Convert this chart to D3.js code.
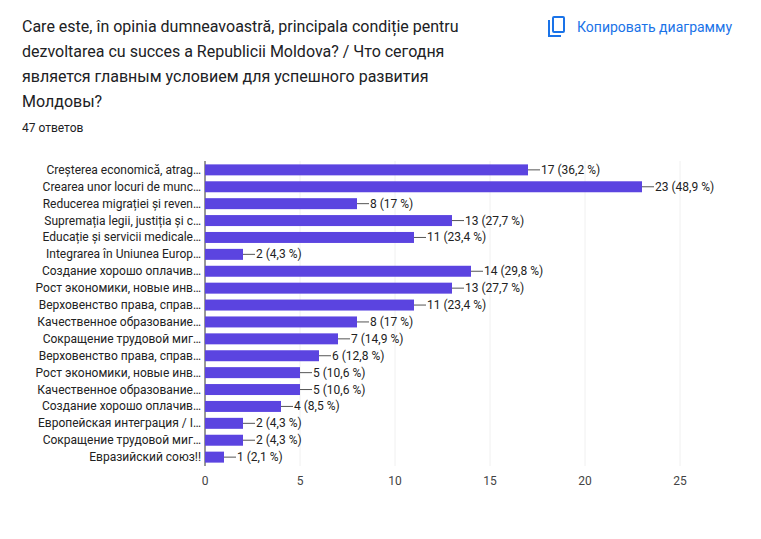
<!DOCTYPE html>
<html><head><meta charset="utf-8">
<script src="https://cdn.jsdelivr.net/npm/d3@7"></script>
<style>body{margin:0;background:#fff;font-family:Roboto,Arial,sans-serif}</style>
</head><body>
<svg class="canvas" width="761" height="539"></svg>
<script>
const categories = [
  "Creșterea economică, atrag…", "Crearea unor locuri de munc…", "Reducerea migrației și reven…",
  "Supremația legii, justiția și c…", "Educație și servicii medicale…", "Integrarea în Uniunea Europ…",
  "Создание хорошо оплачив…", "Рост экономики, новые инв…", "Верховенство права, справ…",
  "Качественное образование…", "Сокращение трудовой миг…", "Верховенство права, справ…",
  "Рост экономики, новые инв…", "Качественное образование…", "Создание хорошо оплачив…",
  "Европейская интеграция / I…", "Сокращение трудовой миг…", "Евразийский союз!!"
];
const counts = [17, 23, 8, 13, 11, 2, 14, 13, 11, 8, 7, 6, 5, 5, 4, 2, 2, 1];
const percents = ["36,2", "48,9", "17", "27,7", "23,4", "4,3", "29,8", "27,7", "23,4", "17", "14,9", "12,8", "10,6", "10,6", "8,5", "4,3", "4,3", "2,1"];
const xTicks = [0, 5, 10, 15, 20, 25];
const titleLines = [
  "Care este, în opinia dumneavoastră, principala condiție pentru",
  "dezvoltarea cu succes a Republicii Moldova? / Что сегодня",
  "является главным условием для успешного развития",
  "Молдовы?"
];

const svg = d3.select(".canvas");
svg.selectAll(".title").data(titleLines).enter().append("text")
  .attr("x", 22).attr("y", (d, i) => 32 + i * 25)
  .attr("font-size", 16).attr("fill", "#202124").text(d => d);
svg.append("text").attr("x", 22).attr("y", 132).attr("font-size", 12).attr("fill", "#202124").text("47 ответов");

// copy button
const cp = svg.append("g").attr("fill", "none").attr("stroke", "#1a73e8").attr("stroke-width", 2);
cp.append("rect").attr("x", 553).attr("y", 17).attr("width", 11).attr("height", 15).attr("rx", 1);
cp.append("path").attr("d", "M549,20 v16 h12");
svg.append("text").attr("x", 577).attr("y", 32).attr("font-size", 14).attr("fill", "#1a73e8").text("Копировать диаграмму");

const plotLeft = 205, plotRight = 680, plotTop = 161, plotBottom = 466;
const x = d3.scaleLinear().domain([0, 25]).range([plotLeft, plotRight]);
const y = d3.scaleBand().domain(d3.range(categories.length)).range([plotTop, plotBottom]).paddingInner(0.35).paddingOuter(0.2);

const g = svg.append("g");
g.selectAll(".grid").data(xTicks.slice(1)).enter().append("line")
  .attr("x1", d => x(d)).attr("x2", d => x(d)).attr("y1", plotTop).attr("y2", plotBottom)
  .attr("stroke", "#f0f0f0");
g.append("line").attr("x1", plotLeft).attr("x2", plotLeft).attr("y1", plotTop).attr("y2", plotBottom).attr("stroke", "#333");

g.selectAll(".bar").data(counts).enter().append("rect")
  .attr("x", plotLeft).attr("y", (d, i) => y(i))
  .attr("width", d => x(d) - plotLeft).attr("height", y.bandwidth()).attr("fill", "#5b44e0");

g.selectAll(".lead").data(counts).enter().append("line")
  .attr("x1", d => x(d)).attr("x2", d => x(d) + 12)
  .attr("y1", (d, i) => y(i) + y.bandwidth() / 2).attr("y2", (d, i) => y(i) + y.bandwidth() / 2)
  .attr("stroke", "#555");
g.selectAll(".val").data(counts).enter().append("text")
  .attr("x", d => x(d) + 13).attr("y", (d, i) => y(i) + y.bandwidth() / 2 + 4)
  .attr("font-size", 12).attr("fill", "#222").text((d, i) => `${d} (${percents[i]} %)`);

g.selectAll(".cat").data(categories).enter().append("text")
  .attr("x", plotLeft - 4).attr("y", (d, i) => y(i) + y.bandwidth() / 2 + 4)
  .attr("text-anchor", "end").attr("font-size", 12).attr("fill", "#222").text(d => d);

g.selectAll(".tick").data(xTicks).enter().append("text")
  .attr("x", d => x(d)).attr("y", 485).attr("text-anchor", "middle")
  .attr("font-size", 12).attr("fill", "#444").text(d => d);
</script>
</body></html>
